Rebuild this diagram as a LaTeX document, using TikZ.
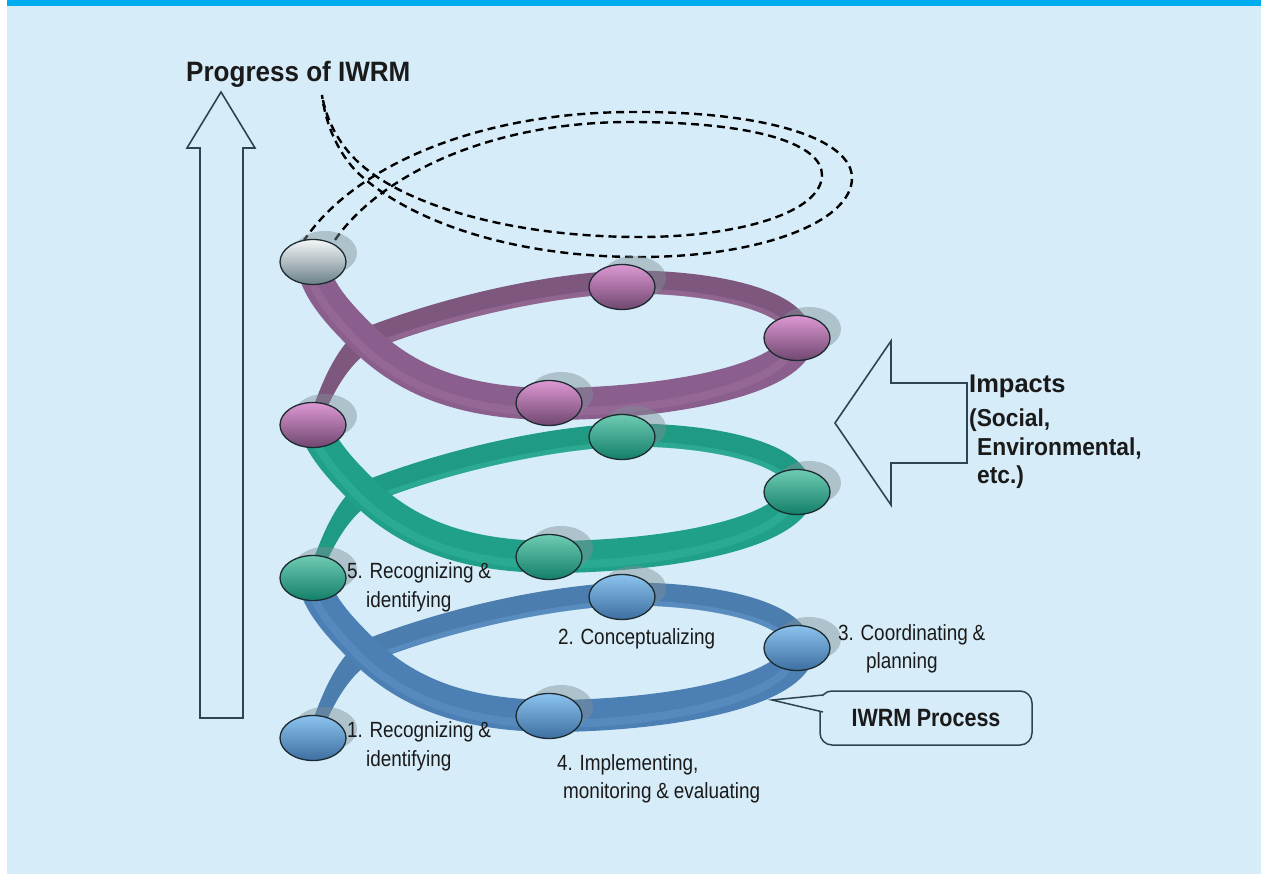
\documentclass[tikz,border=0pt]{standalone}
\usepackage{fontspec}
\setmainfont{Liberation Sans}
\newfontfamily\condA[FakeStretch=0.86, WordSpace=0.92]{Liberation Sans}
\newfontfamily\condB[FakeStretch=0.93]{Liberation Sans}
\usetikzlibrary{shapes.geometric}
\definecolor{bg}{HTML}{D6ECF9}
\definecolor{topband}{HTML}{00AEEF}
\definecolor{arrowline}{HTML}{2C4650}
\definecolor{nodeline}{HTML}{1C2B30}
\definecolor{txt}{HTML}{1A1A1A}
\definecolor{blueback}{HTML}{4B7DAF}
\definecolor{bluefront}{HTML}{4C80B4}
\definecolor{bluehi}{HTML}{6A9FD2}
\definecolor{greenback}{HTML}{1F9A83}
\definecolor{greenfront}{HTML}{20A088}
\definecolor{greenhi}{HTML}{3DBDA3}
\definecolor{purpleback}{HTML}{7E577F}
\definecolor{purplefront}{HTML}{8B5F8D}
\definecolor{purplehi}{HTML}{A777A6}
\definecolor{bluetop}{HTML}{8CC3EE}
\definecolor{bluebot}{HTML}{3D6FA0}
\definecolor{greentop}{HTML}{6FCBB3}
\definecolor{greenbot}{HTML}{137F69}
\definecolor{purpletop}{HTML}{DD98D3}
\definecolor{purplebot}{HTML}{6F476F}
\definecolor{greytop}{HTML}{F5F7F8}
\definecolor{greybot}{HTML}{6A8088}
\definecolor{shade}{HTML}{7F8F96}
\tikzset{
  hollowarrow/.style={draw=arrowline, line width=1.6pt, fill=bg, line join=miter},
  spot/.style={ellipse, minimum width=66pt, minimum height=45pt, inner sep=0pt, draw=nodeline, line width=1.3pt},
  bluespot/.style={spot, top color=bluetop, bottom color=bluebot},
  greenspot/.style={spot, top color=greentop, bottom color=greenbot},
  purplespot/.style={spot, top color=purpletop, bottom color=purplebot},
  greyspot/.style={spot, top color=greytop, bottom color=greybot},
  shadowspot/.style={ellipse, minimum width=64pt, minimum height=44pt, inner sep=0pt, fill=shade, opacity=0.45},
  lab/.style={anchor=base west, inner sep=0pt, text=txt, font=\condA\fontsize{22}{26}\selectfont},
  imp/.style={anchor=base west, inner sep=0pt, text=txt, font=\condB\bfseries\fontsize{24.5}{29}\selectfont},
  dashline/.style={draw=black, line width=2.4pt, dash pattern=on 8pt off 5pt},
  callline/.style={draw=arrowline, line width=1.5pt},
}
\newcommand{\helixlevel}[4]{%
\begin{scope}[shift={(0,#1)}]
  \fill[#2] (307.4,735.9) .. controls (319,702) and (333,663) .. (358.5,642.5) -- (371.5,661.5) .. controls (347,677) and (331,708) .. (318.6,740.1) -- cycle;
  \draw[#2, line width=23pt] (365,652) .. controls (440,622) and (540,598) .. (622,594) .. controls (720,593) and (800,615) .. (800,648);
  \draw[#4, line width=5pt, opacity=0.45] (372,658) .. controls (445,630) and (545,607) .. (622,603) .. controls (710,602) and (788,622) .. (790,646);
  \draw[#3, line width=32pt] (800,648) .. controls (795,690) and (680,714) .. (560,716) .. controls (460,717) and (405,690) .. (365,652) .. controls (338,626) and (318,603) .. (313,579);
  \draw[#4, line width=8pt, opacity=0.35] (792,660) .. controls (780,695) and (680,722) .. (560,724) .. controls (460,725) and (400,695) .. (360,657) .. controls (335,632) and (316,608) .. (311,590);
\end{scope}}
\newcommand{\spotshadow}[2]{\path (#1,#2) ++(12,-9) node[shadowspot] {};}
\begin{document}
\begin{tikzpicture}[x=1pt,y=-1pt]
\useasboundingbox (0,0) rectangle (1261,874);
\fill[white] (0,0) rectangle (1261,874);
\fill[bg] (7,0) rectangle (1261,874);
\fill[topband] (7,0) rectangle (1261,6);

% progress arrow
\draw[hollowarrow] (200,718) -- (200,148) -- (187,148) -- (221,92) -- (255,148) -- (243,148) -- (243,718) -- cycle;
\node[anchor=base west, inner sep=0pt, text=txt, font=\condB\bfseries\fontsize{28}{32}\selectfont] (progress) at (186,82) {Progress of IWRM};

% impacts arrow
\draw[hollowarrow] (967,383) -- (891,383) -- (891,341) -- (835,423) -- (891,505) -- (891,463) -- (967,463) -- cycle;
\node[anchor=base west, inner sep=0pt, text=txt, font=\bfseries\fontsize{25.5}{30}\selectfont] (imp1) at (969,392) {Impacts};
\node[imp] (imp2) at (969,426) {(Social,};
\node[imp] (imp3) at (977,455) {Environmental,};
\node[imp] (imp4) at (977,483) {etc.)};

% spiral bands
\helixlevel{0}{blueback}{bluefront}{bluehi}
\helixlevel{-159}{greenback}{greenfront}{greenhi}
\helixlevel{-312}{purpleback}{purplefront}{purplehi}

% dashed continuation
\draw[dashline] (303,242) .. controls (350,170) and (470,113) .. (630,112) .. controls (770,111) and (852,140) .. (852,178) .. controls (852,222) and (760,257) .. (640,257) .. controls (500,257) and (400,215) .. (355,170) .. controls (335,148) and (325,120) .. (322,95);
\draw[dashline] (335,240) .. controls (380,175) and (490,122) .. (630,122) .. controls (760,122) and (822,145) .. (822,175) .. controls (822,212) and (740,237) .. (640,237) .. controls (510,237) and (410,205) .. (365,168) .. controls (340,148) and (326,120) .. (322,95);

% shadows
\spotshadow{313}{738}\spotshadow{622}{597}\spotshadow{797}{648}\spotshadow{549}{716}
\spotshadow{313}{578}\spotshadow{622}{437}\spotshadow{797}{492}\spotshadow{549}{557}
\spotshadow{313}{425}\spotshadow{622}{287}\spotshadow{797}{338}\spotshadow{549}{403}
\spotshadow{313}{262}

% nodes
\node[bluespot] (b1) at (313,738) {};
\node[bluespot] (b2) at (622,597) {};
\node[bluespot] (b3) at (797,648) {};
\node[bluespot] (b4) at (549,716) {};
\node[greenspot] (g1) at (313,578) {};
\node[greenspot] (g2) at (622,437) {};
\node[greenspot] (g3) at (797,492) {};
\node[greenspot] (g4) at (549,557) {};
\node[purplespot] (p1) at (313,425) {};
\node[purplespot] (p2) at (622,287) {};
\node[purplespot] (p3) at (797,338) {};
\node[purplespot] (p4) at (549,403) {};
\node[greyspot] (w1) at (313,262) {};

% labels
\node[lab] (l5a) at (347,578) {5. Recognizing \&};
\node[lab] (l5b) at (366,607) {identifying};
\node[lab] (l1a) at (347,737) {1. Recognizing \&};
\node[lab] (l1b) at (366,766) {identifying};
\node[lab] (l2) at (558,644) {2. Conceptualizing};
\node[lab] (l3a) at (838,640) {3. Coordinating \&};
\node[lab] (l3b) at (866,668) {planning};
\node[lab] (l4a) at (557,770) {4. Implementing,};
\node[lab] (l4b) at (563,798) {monitoring \& evaluating};

% callout
\node[draw=arrowline, line width=1.5pt, fill=bg, rounded corners=12pt, minimum width=212pt, minimum height=54pt, inner sep=0pt, text=txt, font=\condA\bfseries\fontsize{25}{29}\selectfont] (proc) at (926,718) {IWRM Process};
\coordinate (tip) at (772,700);
\fill[bg] (823,695) -- (tip) -- (823,712) -- cycle;
\draw[callline] (823,695) -- (tip) -- (823,712);
\end{tikzpicture}
\end{document}
